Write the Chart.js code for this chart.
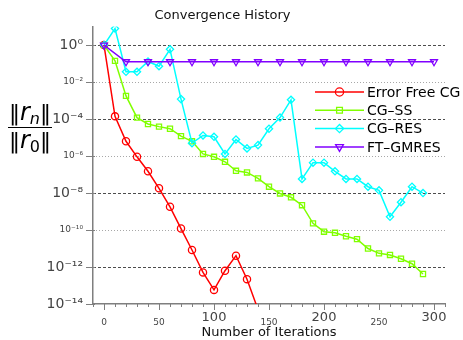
<!DOCTYPE html>
<html><head><meta charset="utf-8">
<script src="https://cdn.jsdelivr.net/npm/chart.js@4/dist/chart.umd.min.js"></script>
<style>html,body{margin:0;padding:0;background:#fff;overflow:hidden}</style>
</head><body>
<canvas id="c" width="463" height="340" style="width:463px;height:340px;display:block"></canvas>
<script>
const FONT = 'DejaVu Sans';

// ---- data ----
const iterErrorFree = [0,10,20,30,40,50,60,70,80,90,100,110,120,130,140];
const errorFreeCG = [1, 1.4e-4, 6.3e-6, 9.1e-7, 1.5e-7, 1.8e-8, 1.8e-9, 1.2e-10, 8.3e-12, 5.1e-13, 5.8e-14, 6.3e-13, 4.1e-12, 2.2e-13, 5.0e-15];

const iterCG = [0,10,20,30,40,50,60,70,80,90,100,110,120,130,140,150,160,170,180,190,200,210,220,230,240,250,260,270,280,290];
const cgSS = [1, 1.4e-1, 1.8e-3, 1.2e-4, 5.4e-5, 3.9e-5, 3.0e-5, 1.2e-5, 6.3e-6, 1.3e-6, 9.1e-7, 4.9e-7, 1.6e-7, 1.3e-7, 6.2e-8, 2.2e-8, 9.5e-9, 5.9e-9, 2.2e-9, 2.3e-10, 8.1e-11, 7.1e-11, 4.6e-11, 3.2e-11, 1.0e-11, 5.5e-12, 4.5e-12, 2.8e-12, 1.5e-12, 4.2e-13];
const cgRES = [1, 7.9, 3.6e-2, 3.6e-2, 1.3e-1, 7.2e-2, 5.9e-1, 1.2e-3, 5.0e-6, 1.3e-5, 1.1e-5, 1.3e-6, 7.9e-6, 2.6e-6, 3.9e-6, 3.0e-5, 1.2e-4, 1.1e-3, 5.8e-8, 4.4e-7, 4.4e-7, 1.5e-7, 5.8e-8, 5.8e-8, 2.2e-8, 1.4e-8, 5.2e-10, 3.2e-9, 2.2e-8, 1.0e-8];

const iterGMRES = [0,20,40,60,80,100,120,140,160,180,200,220,240,260,280,300];
const ftGMRES = [1, 0.126, 0.126, 0.126, 0.126, 0.126, 0.126, 0.126, 0.126, 0.126, 0.126, 0.126, 0.126, 0.126, 0.126, 0.126];

const seriesNames = ['Error Free CG', 'CG\u2013SS', 'CG\u2013RES', 'FT\u2013GMRES'];

const yTickValues = [1e-14, 1e-12, 1e-10, 1e-8, 1e-6, 1e-4, 1e-2, 1];
const yTickLabels = ['10\u207B\u00B9\u2074', '10\u207B\u00B9\u00B2', '10\u207B\u00B9\u2070', '10\u207B\u2078', '10\u207B\u2076', '10\u207B\u2074', '10\u207B\u00B2', '10\u2070'];
const yMajorLabels = ['10\u207B\u00B9\u2074', '10\u207B\u00B9\u00B2', '10\u207B\u2078', '10\u207B\u2074', '10\u2070'];
const xTickLabelValues = [0, 50, 100, 150, 200, 250, 300];
const xMajorLabelValues = [100, 200, 300];

const pts = (xs, ys) => xs.map((x, i) => ({x: x, y: ys[i]}));

const gridPlugin = {
  id: 'customGrid',
  beforeDatasetsDraw(chart) {
    const ctx = chart.ctx, a = chart.chartArea, ys = chart.scales.y;
    ctx.save();
    yTickValues.forEach(v => {
      if (v <= 1e-14) return;
      const e = Math.round(Math.log10(v));
      const py = Math.round(ys.getPixelForValue(v)) + 0.5;
      const major = (e % 4 === 0);
      ctx.beginPath();
      ctx.setLineDash(major ? [3, 2] : [1, 2]);
      ctx.strokeStyle = major ? '#4d4d4d' : '#a8a8a8';
      ctx.lineWidth = 1.2;
      ctx.moveTo(a.left, py);
      ctx.lineTo(a.right, py);
      ctx.stroke();
    });
    ctx.restore();
  },
  afterDraw(chart) {
    const ctx = chart.ctx, a = chart.chartArea, xs = chart.scales.x, ys = chart.scales.y;
    ctx.save();
    ctx.strokeStyle = '#7f7f7f';
    ctx.lineWidth = 1;
    xs.ticks.forEach(t => {
      const px = Math.round(xs.getPixelForValue(t.value)) + 0.5;
      const len = (t.value % 50 === 0) ? 6 : 3;
      ctx.beginPath();
      ctx.moveTo(px, a.bottom);
      ctx.lineTo(px, a.bottom + len);
      ctx.stroke();
    });
    yTickValues.forEach(v => {
      const py = Math.round(ys.getPixelForValue(v)) + 0.5;
      ctx.beginPath();
      ctx.moveTo(a.left - 7, py);
      ctx.lineTo(a.left + 2, py);
      ctx.stroke();
    });
    // y-axis label as a fraction ||r_n|| / ||r_0||
    const cx = 30, lineY = 127.5;
    function drawNorm(sub, subItalic, baseY) {
      const parts = [
        {t: '\u2016', f: '22px "' + FONT + '"', dy: 0},
        {t: 'r', f: 'italic 24px "' + FONT + '"', dy: 0},
        {t: sub, f: (subItalic ? 'italic ' : '') + '16px "' + FONT + '"', dy: 4},
        {t: '\u2016', f: '22px "' + FONT + '"', dy: 0}
      ];
      let w = 0;
      parts.forEach(p => { ctx.font = p.f; p.w = ctx.measureText(p.t).width; w += p.w; });
      let x = cx - w / 2;
      ctx.fillStyle = '#000';
      ctx.textBaseline = 'alphabetic';
      ctx.textAlign = 'left';
      parts.forEach(p => { ctx.font = p.f; ctx.fillText(p.t, x, baseY + p.dy); x += p.w; });
      return w;
    }
    drawNorm('n', true, 120);
    drawNorm('0', false, 148);
    ctx.beginPath();
    ctx.strokeStyle = '#000';
    ctx.lineWidth = 1.2;
    ctx.moveTo(8, lineY);
    ctx.lineTo(52, lineY);
    ctx.stroke();
    // legend inside the plot (no box)
    const lx0 = 315, lx1 = 364, tx = 367, ly0 = 92, dy = 18.3;
    chart.data.datasets.forEach((ds, i) => {
      const y = ly0 + i * dy;
      ctx.beginPath();
      ctx.setLineDash([]);
      ctx.strokeStyle = ds.borderColor;
      ctx.lineWidth = ds.borderWidth;
      ctx.moveTo(lx0, y);
      ctx.lineTo(lx1, y);
      ctx.stroke();
      ctx.fillStyle = 'rgba(0,0,0,0)';
      ctx.strokeStyle = ds.borderColor;
      ctx.lineWidth = ds.pointBorderWidth;
      if (Chart.helpers && Chart.helpers.drawPoint) {
        Chart.helpers.drawPoint(ctx, {pointStyle: ds.pointStyle, rotation: ds.pointRotation || 0, radius: ds.pointRadius + 0.5, borderWidth: ds.pointBorderWidth}, (lx0 + lx1) / 2, y);
      }
      ctx.fillStyle = '#000';
      ctx.font = '14px "' + FONT + '"';
      ctx.textBaseline = 'middle';
      ctx.textAlign = 'left';
      ctx.fillText(seriesNames[i], tx, y + 1);
    });
    ctx.restore();
  }
};

function lineDs(label, data, color, style, rot, radius, order, clip) {
  const ds = {
    label: label, data: data, borderColor: color, backgroundColor: 'rgba(0,0,0,0)',
    borderWidth: 1.5, pointStyle: style, pointRotation: rot, pointRadius: radius,
    pointBorderWidth: 1.3, pointBackgroundColor: 'rgba(0,0,0,0)', pointBorderColor: color,
    pointHoverRadius: radius, tension: 0, fill: false, order: order
  };
  if (clip !== undefined) ds.clip = clip;
  return ds;
}

new Chart(document.getElementById('c'), {
  type: 'line',
  data: {
    datasets: [
      lineDs(seriesNames[0], pts(iterErrorFree, errorFreeCG), 'rgb(255,0,0)', 'circle', 0, 3.6, 4, 0),
      lineDs(seriesNames[1], pts(iterCG, cgSS), 'rgb(128,255,0)', 'rect', 0, 3.6, 3, 0),
      lineDs(seriesNames[2], pts(iterCG, cgRES), 'rgb(0,255,255)', 'rectRot', 0, 3.6, 2, 0),
      lineDs(seriesNames[3], pts(iterGMRES, ftGMRES), 'rgb(128,0,255)', 'triangle', 180, 4, 1, 0)
    ]
  },
  options: {
    responsive: false,
    animation: false,
    devicePixelRatio: 1,
    layout: {padding: {left: 0, right: 18, top: 0, bottom: 0}},
    plugins: {
      legend: {display: false},
      tooltip: {enabled: false},
      title: {
        display: true, text: 'Convergence History', color: '#111',
        font: {family: FONT, size: 13, weight: 'normal', lineHeight: 1.2},
        padding: {top: 8, bottom: 3}
      }
    },
    scales: {
      x: {
        type: 'linear', min: -10, max: 310,
        grid: {display: false, drawTicks: false},
        border: {display: true, color: '#7f7f7f', width: 1.5},
        ticks: {
          stepSize: 10, autoSkip: false, maxRotation: 0, padding: 6, color: '#444',
          callback: v => xTickLabelValues.includes(v) ? String(v) : '',
          font: ctx => xMajorLabelValues.includes(ctx.tick && ctx.tick.value)
            ? {family: FONT, size: 13, lineHeight: '16px'}
            : {family: FONT, size: 9, lineHeight: '26px'}
        },
        title: {display: true, text: 'Number of Iterations', color: '#111',
          font: {family: FONT, size: 13, lineHeight: 1.2}, padding: {top: 0, bottom: 0}},
        afterFit: s => { s.height = 36; }
      },
      y: {
        type: 'logarithmic', min: 1e-14, max: 10,
        grid: {display: false, drawTicks: false},
        border: {display: true, color: '#7f7f7f', width: 1.5},
        afterBuildTicks: s => { s.ticks = yTickValues.map(v => ({value: v})); },
        ticks: {
          autoSkip: false, padding: 10, color: '#444',
          callback: (v, i) => yTickLabels[i],
          font: ctx => yMajorLabels.includes(yTickLabels[ctx.index])
            ? {family: FONT, size: 14}
            : {family: FONT, size: 9}
        },
        afterFit: s => { s.width = 93; }
      }
    }
  },
  plugins: [gridPlugin]
});
</script>
</body></html>
